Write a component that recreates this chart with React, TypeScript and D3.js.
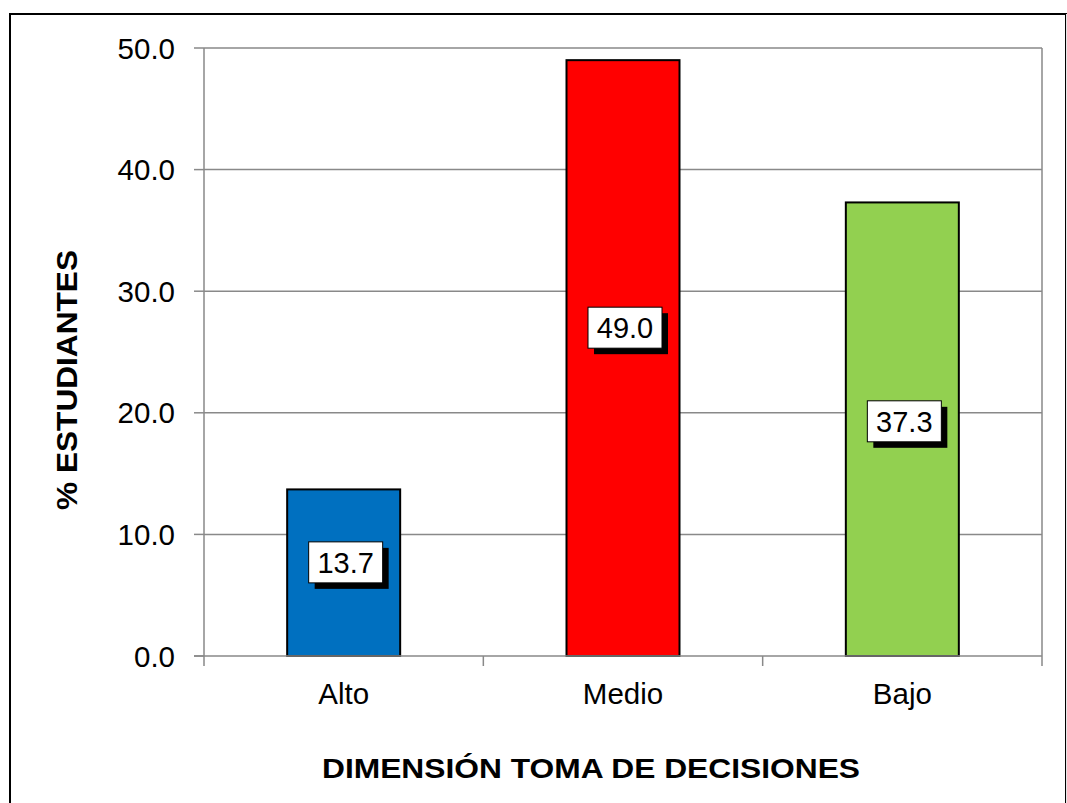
import React from "react";
import * as d3 from "d3";

const categories = ["Alto", "Medio", "Bajo"];
const values = [13.7, 49.0, 37.3];
const barColors = ["#0070C0", "#FF0000", "#92D050"];
const yTicks = [0, 10, 20, 30, 40, 50];
const labelAnchors = [7.7, 27.0, 19.3];
const xTitle = "DIMENSIÓN TOMA DE DECISIONES";
const yTitle = "% ESTUDIANTES";

export default function App() {
  const W = 1067, H = 803;
  const left = 204, right = 1042, top = 48, bottom = 656;
  const x = d3.scaleBand<string>().domain(categories).range([left, right]).paddingInner(0).paddingOuter(0);
  const y = d3.scaleLinear().domain([0, 50]).range([bottom, top]);
  const bw = 113;
  const grid = "#898989";
  const font = "Arial, 'Liberation Sans', sans-serif";
  const boundaries = [...categories.map((c) => x(c)!), right];
  return (
    <svg width={W} height={H} style={{ position: "absolute", left: 0, top: 0, background: "#fff" }}>
      <rect x={10} y={14} width={1056} height={800} fill="#fff" stroke="#000" strokeWidth={2} />
      <line x1={1066.5} y1={14} x2={1066.5} y2={803} stroke="#e6e6e6" strokeWidth={1} />
      {/* gridlines */}
      {yTicks.slice(1).map((t) => (
        <line key={t} x1={left} x2={right} y1={y(t)} y2={y(t)} stroke={grid} strokeWidth={1.5} />
      ))}
      <line x1={right} x2={right} y1={top} y2={bottom} stroke={grid} strokeWidth={1.5} />
      {/* bars */}
      {categories.map((c, i) => {
        const cx = x(c)! + x.bandwidth() / 2;
        return (
          <rect key={c} x={cx - bw / 2} y={y(values[i])} width={bw} height={bottom - y(values[i])}
            fill={barColors[i]} stroke="#000" strokeWidth={2} />
        );
      })}
      {/* axes */}
      <line x1={left} x2={left} y1={top} y2={bottom} stroke={grid} strokeWidth={1.5} />
      <line x1={left - 10} x2={right} y1={bottom} y2={bottom} stroke={grid} strokeWidth={1.5} />
      {yTicks.map((t) => (
        <g key={t}>
          <line x1={left - 10} x2={left} y1={y(t)} y2={y(t)} stroke={grid} strokeWidth={1.5} />
          <text x={175} y={y(t)} dy="0.36em" textAnchor="end" fontFamily={font} fontSize={29.5} fill="#000">
            {t.toFixed(1)}
          </text>
        </g>
      ))}
      {boundaries.map((b, i) => (
        <line key={i} x1={b} x2={b} y1={bottom} y2={bottom + 10} stroke={grid} strokeWidth={1.5} />
      ))}
      {categories.map((c) => (
        <text key={c} x={x(c)! + x.bandwidth() / 2} y={704} textAnchor="middle" fontFamily={font} fontSize={29.5} fill="#000">
          {c}
        </text>
      ))}
      {/* data labels */}
      {categories.map((c, i) => {
        const cx = x(c)! + x.bandwidth() / 2 + 2;
        const cy = y(labelAnchors[i]);
        const bwid = 74, bh = 41;
        return (
          <g key={c}>
            <rect x={cx - bwid / 2 + 6} y={cy - bh / 2 + 6} width={bwid} height={bh} fill="#000" />
            <rect x={cx - bwid / 2} y={cy - bh / 2} width={bwid} height={bh} fill="#fff" stroke="#000" strokeWidth={1} />
            <text x={cx} y={cy} dy="0.36em" textAnchor="middle" fontFamily={font} fontSize={29} fill="#000">
              {values[i].toFixed(1)}
            </text>
          </g>
        );
      })}
      {/* titles */}
      <text x={591} y={778} textAnchor="middle" fontFamily={font} fontWeight="bold" fontSize={28}
        textLength={538} lengthAdjust="spacingAndGlyphs" fill="#000">
        {xTitle}
      </text>
      <text transform={`translate(77,380) rotate(-90)`} textAnchor="middle" fontFamily={font} fontWeight="bold" fontSize={30}
        textLength={260} lengthAdjust="spacingAndGlyphs" fill="#000">
        {yTitle}
      </text>
    </svg>
  );
}
